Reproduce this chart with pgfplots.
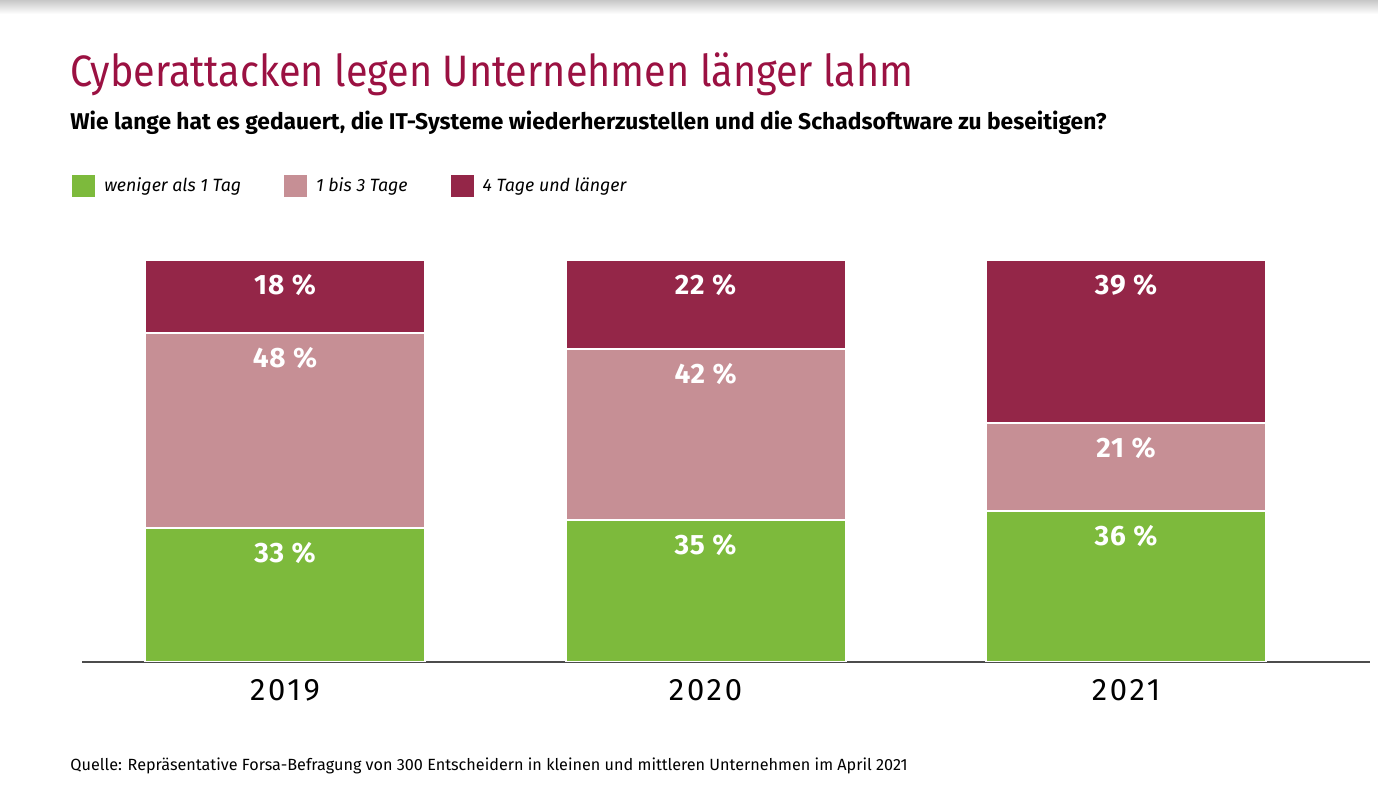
\documentclass[border=0pt]{standalone}
\usepackage{pgfplots}
\pgfplotsset{compat=1.18}
\usepackage{pgfplotstable}
\usepackage{fontspec}
\setmainfont{Fira Sans}
\newfontfamily\titlefont{Fira Sans}[FakeStretch=0.9]

\definecolor{cgreen}{RGB}{125,186,60}
\definecolor{cpink}{RGB}{198,143,149}
\definecolor{cdark}{RGB}{148,38,72}
\definecolor{ctitle}{RGB}{155,17,66}

% bar heights as drawn (share of each bar)
\pgfplotstableread{
x g p d
0 33.3 48.5 18.2
1 35.4 42.4 22.2
2 37.5 21.9 40.6
}\bars
% printed values, placed at the top of their segment
\pgfplotstableread{
x top lab
0 33.3 33
0 81.8 48
0 100 18
1 35.4 35
1 77.8 42
1 100 22
2 37.5 36
2 59.4 21
2 100 39
}\labels

\pgfplotsset{frame/.style={
   at={(41pt,-331pt)}, anchor=south west,
   scale only axis, width=644pt, height=201pt,
   ymin=0, ymax=100, xmin=-0.4828, xmax=2.580}}

\begin{document}
\begin{tikzpicture}[x=0.5pt,y=-0.5pt]
\shade[top color=black!22,bottom color=white] (0,0) rectangle (1378,14);
\path (0,0) rectangle (1378,812);

\begin{axis}[frame,
   ybar stacked, bar width=140pt,
   axis y line=none, axis x line*=bottom,
   x axis line style={draw=black!70, line width=0.75pt},
   xtick={0,1,2}, xticklabels={2019,2020,2021},
   major tick length=0pt,
   xticklabel style={anchor=base, yshift=-19.5pt,
      font=\fontsize{15.5}{16}\selectfont\addfontfeatures{LetterSpace=9}},
   legend style={at={(axis description cs:-0.0125,1.184)}, anchor=west,
      draw=none, fill=none, legend columns=-1,
      font=\fontsize{8.9}{10}\selectfont\itshape,
      /tikz/every odd column/.style={column sep=2.5pt},
      /tikz/every even column/.style={column sep=19.5pt}},
   legend image code/.code={\fill[#1,draw=none] (0pt,-5.3pt) rectangle (11.5pt,5.3pt);},
]
\addplot[fill=cgreen, draw=white, line width=1pt] table[x=x, y=g]{\bars};
\addplot[fill=cpink, draw=white, line width=1pt] table[x=x, y=p]{\bars};
\addplot[fill=cdark, draw=white, line width=1pt] table[x=x, y=d]{\bars};
\legend{weniger als 1 Tag, 1 bis 3 Tage, 4 Tage und länger}
\end{axis}

\begin{axis}[frame, hide axis]
\addplot[draw=none, mark=none,
   nodes near coords={\pgfplotspointmeta\ \%},
   point meta=explicit symbolic,
   every node near coord/.style={text=white, anchor=center, yshift=-12.5pt,
      font=\fontsize{14}{14}\selectfont\bfseries\addfontfeatures{LetterSpace=3}}]
   table[x=x, y=top, meta=lab]{\labels};
\end{axis}

\node[anchor=base west, inner sep=0pt, text=ctitle, font=\titlefont\fontsize{22}{24}\selectfont]
   at (70,87) {Cyberattacken legen Unternehmen länger lahm};
\node[anchor=base west, inner sep=0pt, font=\fontsize{11.4}{13}\selectfont\bfseries]
   at (70,130) {Wie lange hat es gedauert, die IT-Systeme wiederherzustellen und die Schadsoftware zu beseitigen?};
\node[anchor=base west, inner sep=0pt, font=\fontsize{8.1}{10}\selectfont]
   at (70,770) {Quelle: Repräsentative Forsa-Befragung von 300 Entscheidern in kleinen und mittleren Unternehmen im April 2021};
\end{tikzpicture}
\end{document}
